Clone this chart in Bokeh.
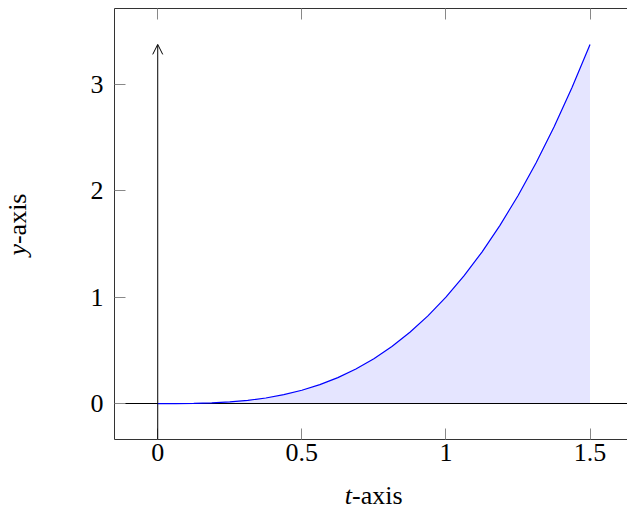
from bokeh.plotting import figure
from bokeh.models import Range1d, LinearAxis, FixedTicker, Arrow, OpenHead, Label, ColumnDataSource
from bokeh.embed import file_html
from bokeh.resources import INLINE

# data (curve y = t^3, 25 samples)
t_values = [0.0, 0.0625, 0.125, 0.1875, 0.25, 0.3125, 0.375, 0.4375, 0.5, 0.5625,
            0.625, 0.6875, 0.75, 0.8125, 0.875, 0.9375, 1.0, 1.0625, 1.125, 1.1875,
            1.25, 1.3125, 1.375, 1.4375, 1.5]
y_values = [0.0, 0.0002, 0.002, 0.0066, 0.0156, 0.0305, 0.0527, 0.0837, 0.125, 0.178,
            0.2441, 0.325, 0.4219, 0.5364, 0.6699, 0.824, 1.0, 1.1995, 1.4238, 1.6746,
            1.9531, 2.261, 2.5996, 2.9705, 3.375]
baseline = [0.0] * len(t_values)

x_ticks = [0, 0.5, 1, 1.5]
x_tick_labels = ["0", "0.5", "1", "1.5"]
y_ticks = [0, 1, 2, 3]
y_tick_labels = ["0", "1", "2", "3"]
x_label_var = "t"
y_label_var = "y"
label_suffix = "-axis"

FONT = "Liberation Serif"
FS = "26px"

x_start, x_end = -0.15, 1.630
y_start, y_end = -0.3375, 3.7125

p = figure(width=627, height=511, output_backend="svg", toolbar_location=None,
           x_range=Range1d(x_start, x_end), y_range=Range1d(y_start, y_end),
           min_border_left=114, min_border_right=0, min_border_top=8, min_border_bottom=72)
p.outline_line_color = None
p.grid.visible = False
p.background_fill_color = "white"
p.border_fill_color = "white"

src = ColumnDataSource(dict(t=t_values, y=y_values, b=baseline))

p.varea(x="t", y1="b", y2="y", source=src, fill_color="#e5e5ff")
# horizontal axis line through the origin
p.hspan(y=0, line_color="black", line_width=1)
p.line(x="t", y="y", source=src, line_color="blue", line_width=1.2)

v_arrow = Arrow(x_start=0, y_start=y_start, x_end=0, y_end=max(y_values),
                line_color="black", line_width=1,
                end=OpenHead(size=10, line_color="black", line_width=1))
p.add_layout(v_arrow)


def style_axis(ax, labels, ticks, show_labels=True):
    ax.ticker = FixedTicker(ticks=ticks)
    ax.major_label_overrides = {tk: lb for tk, lb in zip(ticks, labels)}
    ax.minor_tick_line_color = None
    ax.major_tick_in = 11
    ax.major_tick_out = 0
    ax.major_tick_line_color = "#888888"
    ax.major_tick_line_width = 1
    ax.axis_line_color = "#333333"
    ax.axis_line_width = 1
    ax.major_label_text_font = FONT
    if show_labels:
        ax.major_label_text_font_size = FS
        ax.major_label_text_color = "black"
    else:
        ax.major_label_text_font_size = "1px"
        ax.major_label_text_color = None
        ax.major_label_standoff = 0


xa = p.xaxis[0]
style_axis(xa, x_tick_labels, x_ticks)
xa.major_label_standoff = 4
ya = p.yaxis[0]
style_axis(ya, y_tick_labels, y_ticks)
ya.major_label_standoff = 11

top = LinearAxis()
style_axis(top, x_tick_labels, x_ticks, show_labels=False)
p.add_layout(top, "above")

# axis titles: italic variable + upright suffix, placed in side panels (not clipped)
common = dict(text_baseline="alphabetic", text_font=FONT, text_font_size=FS,
              text_color="black")
xt_x, xt_y = 0.674, -0.868     # anchor of the t-axis title (data coords)
yt_x, yt_y = -0.487, 1.499     # anchor of the y-axis title (data coords)
p.add_layout(Label(x=xt_x, y=xt_y, text=label_suffix, text_align="left", **common), "below")
p.add_layout(Label(x=yt_x, y=yt_y, text=y_label_var, text_align="right", angle=1.5708,
                   text_font_style="italic", **common), "left")
p.add_layout(Label(x=yt_x, y=yt_y, text=label_suffix, text_align="left", angle=1.5708,
                   **common), "left")
p.add_layout(Label(x=xt_x, y=xt_y, text=x_label_var, text_align="right",
                   text_font_style="italic", **common), "left")

open("out.html", "w").write(file_html(p, INLINE))
